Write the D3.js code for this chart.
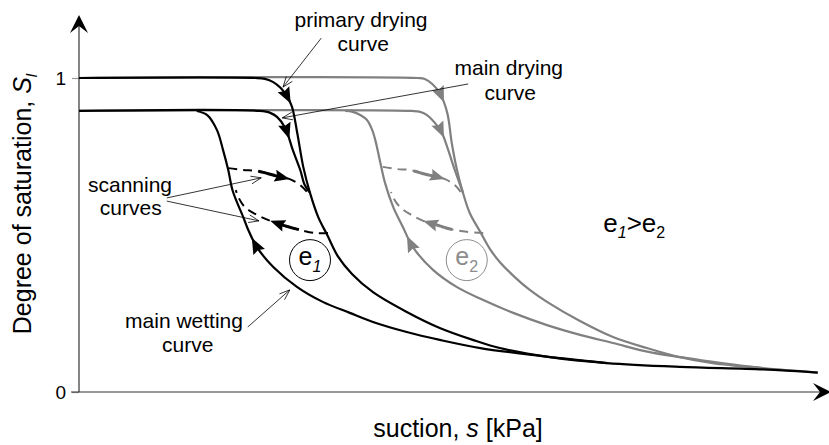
<!DOCTYPE html>
<html>
<head>
<meta charset="utf-8">
<script src="https://cdn.jsdelivr.net/npm/d3@7"></script>
<style>
  html, body { margin: 0; padding: 0; background: #fff; }
  svg { display: block; font-family: Arial, "Liberation Sans", sans-serif; }
</style>
</head>
<body>
<svg id="chart" width="829" height="445"></svg>
<script>
// Water retention behaviour for two void ratios (e1 > e2).
// Every point is [suction (relative units 0-100), degree of saturation Sl].

const satTicks = [0, 1];

// void ratio e1 (black)
const e1PrimaryDrying = [[0,1],[23.5,1],[24.8,0.997],[25.9,0.987],[26.9,0.968],[27.7,0.943],[28.4,0.908],
  [29.1,0.825],[29.9,0.717],[30.8,0.634],[31.9,0.557],[33.1,0.5],[34.5,0.433],[36.4,0.376],[39.2,0.318],
  [43.7,0.255],[48.1,0.204],[52.5,0.166],[56.1,0.14],[62.8,0.111],[70.4,0.092],[80.1,0.08],[91.2,0.072],[98.5,0.062]];
const e1MainDrying = [[0,0.895],[24.1,0.895],[25.5,0.889],[26.4,0.876],[27.5,0.841],[28.5,0.771],
  [29.5,0.707],[30.1,0.659],[30.8,0.634]];
const e1MainWetting = [[15.7,0.895],[17.1,0.882],[18.4,0.834],[19.2,0.771],[19.9,0.707],[20.5,0.64],
  [21.9,0.557],[22.5,0.52],[23.7,0.462],[25.9,0.398],[29.1,0.334],[32.5,0.287],[36.1,0.252],
  [39.2,0.223],[43.7,0.191],[48.1,0.166],[53.5,0.14],[61.5,0.115],[70.4,0.092]];
const e1ScanDrying = [[19.9,0.713],[21.9,0.707],[23.7,0.704],[26.8,0.685],[28.1,0.678],[29.5,0.659],[30.4,0.637],[30.8,0.624]];
const e1ScanWetting = [[33.2,0.506],[31.5,0.506],[29.5,0.516],[27.5,0.529],[25.5,0.545],[23.5,0.567],[22.1,0.589],[21.3,0.618],[20.9,0.643]];

// void ratio e2 (grey)
const e2PrimaryDrying = [[0,1],[45.1,1],[46.1,0.997],[47.1,0.981],[48.1,0.952],[49.1,0.889],[49.7,0.793],
  [50.4,0.707],[51.2,0.634],[52.1,0.57],[53.5,0.51],[54.8,0.455],[56.1,0.414],[58.1,0.366],[60.1,0.325],
  [62.4,0.287],[66.8,0.226],[71.2,0.175],[75.7,0.14],[80.1,0.111],[84.5,0.092],[91.2,0.076],[98.5,0.062]];
const e2MainDrying = [[0,0.895],[44.4,0.895],[45.5,0.892],[46.4,0.882],[47.7,0.85],[48.4,0.825],
  [49.1,0.78],[50.1,0.707],[51.2,0.634]];
const e2MainWetting = [[35.5,0.895],[36.5,0.892],[37.5,0.882],[38.4,0.866],[39.1,0.834],[39.5,0.803],
  [40.1,0.739],[40.8,0.666],[41.9,0.589],[43.2,0.525],[44.5,0.462],[47.2,0.389],[50.4,0.334],[53.9,0.293],
  [57.9,0.252],[62.4,0.213],[66.8,0.182],[71.2,0.156],[76.1,0.127],[82.8,0.102],[91.2,0.076]];
const e2ScanDrying = [[40.5,0.717],[42.4,0.71],[44.1,0.707],[46.1,0.694],[48.8,0.678],[50.1,0.659],[50.9,0.637],[51.3,0.624]];
const e2ScanWetting = [[53.9,0.506],[51.7,0.51],[49.5,0.519],[47.7,0.532],[45.9,0.545],[44.1,0.567],[42.8,0.589],[42.0,0.615],[41.6,0.637]];

const W = 829, H = 445;
const svg = d3.select("#chart");
const x = d3.scaleLinear().domain([0, 100]).range([79, 829]);
const y = d3.scaleLinear().domain([0, 1]).range([392, 78]);
const line = d3.line().x(d => x(d[0])).y(d => y(d[1])).curve(d3.curveCatmullRom.alpha(0.5));

const BLACK = "#000", GREY = "#808080";

// ---- axes ----
const axisG = svg.append("g").attr("transform", `translate(${x(0)},0)`)
  .call(d3.axisLeft(y).tickValues(satTicks).tickSize(7).tickPadding(6).tickFormat(d3.format("d")));
axisG.select(".domain").remove();
axisG.selectAll(".tick line").attr("stroke", "#999").attr("stroke-width", 1.2);
axisG.selectAll(".tick text").attr("font-size", 19).attr("fill", "#000")
  .attr("font-family", "Arial, 'Liberation Sans', sans-serif");

svg.append("line").attr("x1", x(0)).attr("x2", x(0)).attr("y1", y(0)).attr("y2", 24)
  .attr("stroke", "#333").attr("stroke-width", 1.2);
svg.append("line").attr("x1", x(0) - 8).attr("x2", W - 6).attr("y1", y(0)).attr("y2", y(0))
  .attr("stroke", "#333").attr("stroke-width", 1.2);
// axis arrow tips
const x0 = x(0), y0 = y(0);
svg.append("path").attr("d", `M${x0},15 L${x0 - 9},33 L${x0},26 L${x0 + 9},33 Z`).attr("fill", "#000");
svg.append("path").attr("d", `M${W + 2},${y0} L${W - 16},${y0 - 9} L${W - 9},${y0} L${W - 16},${y0 + 9} Z`).attr("fill", "#000");

// ---- curves ----
const curveG = svg.append("g").attr("fill", "none").attr("stroke-linecap", "butt");
function drawCurve(data, color, width, dash) {
  return curveG.append("path").datum(data).attr("d", line)
    .attr("stroke", color).attr("stroke-width", width)
    .attr("stroke-dasharray", dash || null).node();
}

function nearestLength(node, pt) {
  const px = x(pt[0]), py = y(pt[1]);
  const L = node.getTotalLength();
  let best = 0, bd = Infinity;
  for (let l = 0; l <= L; l += 0.5) {
    const p = node.getPointAtLength(l);
    const d = (p.x - px) ** 2 + (p.y - py) ** 2;
    if (d < bd) { bd = d; best = l; }
  }
  return best;
}

function arrowHead(node, l, dir, color, len, wid) {
  const L = node.getTotalLength();
  const p = node.getPointAtLength(l);
  const b = node.getPointAtLength(Math.max(0, Math.min(L, l - 7 * dir)));
  const ang = Math.atan2(p.y - b.y, p.x - b.x) * 180 / Math.PI;
  svg.append("path")
    .attr("d", `M0,0 L${-len},${-wid / 2} L${-len * 0.86},0 L${-len},${wid / 2} Z`)
    .attr("transform", `translate(${p.x},${p.y}) rotate(${ang})`)
    .attr("fill", color);
}

function solidRun(node, l0, l1, color, width) {
  const pts = [];
  for (let l = l0; l <= l1; l += 1) {
    const p = node.getPointAtLength(l); pts.push([p.x, p.y]);
  }
  svg.append("path").attr("d", d3.line()(pts)).attr("fill", "none")
    .attr("stroke", color).attr("stroke-width", width);
}

const sets = [
  { color: GREY, pd: e2PrimaryDrying, md: e2MainDrying, mw: e2MainWetting, sd: e2ScanDrying, sw: e2ScanWetting,
    aPd: [48.8, 0.924], aMd: [48.9, 0.812], aMw: [43.5, 0.494], aSd: [48.8, 0.678], aSw: [45.9, 0.545] },
  { color: BLACK, pd: e1PrimaryDrying, md: e1MainDrying, mw: e1MainWetting, sd: e1ScanDrying, sw: e1ScanWetting,
    aPd: [28.4, 0.92], aMd: [28.4, 0.809], aMw: [23.3, 0.494], aSd: [28.1, 0.678], aSw: [25.5, 0.545] }
];

sets.forEach(s => {
  const pd = drawCurve(s.pd, s.color, 2.2);
  const md = drawCurve(s.md, s.color, 2.2);
  const mw = drawCurve(s.mw, s.color, 2.2);
  const sd = drawCurve(s.sd, s.color, 2, "9,6");
  const sw = drawCurve(s.sw, s.color, 2, "9,6");
  arrowHead(pd, nearestLength(pd, s.aPd), 1, s.color, 16, 13);
  arrowHead(md, nearestLength(md, s.aMd), 1, s.color, 16, 13);
  arrowHead(mw, nearestLength(mw, s.aMw), -1, s.color, 16, 13);
  const lsd = nearestLength(sd, s.aSd);
  solidRun(sd, lsd - 32, lsd - 8, s.color, 3);
  arrowHead(sd, lsd, 1, s.color, 15, 12);
  const lsw = nearestLength(sw, s.aSw);
  solidRun(sw, lsw - 30, lsw - 8, s.color, 3);
  arrowHead(sw, lsw, 1, s.color, 15, 12);
});

// ---- void ratio markers ----
const markers = [
  { at: [30.8, 0.42], sub: "1", color: "#000", subItalic: true },
  { at: [51.7, 0.42], sub: "2", color: "#8c8c8c", subItalic: false }
];
markers.forEach(m => {
  const cx = x(m.at[0]), cy = y(m.at[1]);
  svg.append("circle").attr("cx", cx).attr("cy", cy).attr("r", 20.5)
    .attr("fill", "#fff").attr("stroke", m.color).attr("stroke-width", 1);
  const t = svg.append("text").attr("x", cx).attr("y", cy + 5).attr("text-anchor", "middle")
    .attr("fill", m.color).attr("font-size", 25);
  t.append("tspan").text("e");
  t.append("tspan").attr("dy", 7).attr("font-size", 16)
    .attr("font-style", m.subItalic ? "italic" : "normal").text(m.sub);
});

const rel = svg.append("text").attr("x", x(69.9)).attr("y", y(0.508)).attr("font-size", 26).attr("fill", "#000");
rel.append("tspan").text("e");
rel.append("tspan").attr("dy", 6).attr("font-size", 16).attr("font-style", "italic").text("1");
rel.append("tspan").attr("dy", -6).text(">e");
rel.append("tspan").attr("dy", 6).attr("font-size", 16).text("2");

// ---- annotations ----
const notes = [
  { lines: ["primary drying", "curve"], at: [[37.6, 1.162], [37.9, 1.086]], from: [32.3, 1.127], to: [27.2, 0.971] },
  { lines: ["main drying", "curve"], at: [[57.3, 1.01], [57.5, 0.93]], from: [51.9, 0.981], to: [27.1, 0.873] },
  { lines: ["scanning", "curves"], at: [[6.8, 0.637], [6.9, 0.564]], from: [11.7, 0.618], to: [24.3, 0.682] },
  { lines: [], at: [], from: [11.7, 0.608], to: [24.0, 0.545] },
  { lines: ["main wetting", "curve"], at: [[14.0, 0.204], [14.5, 0.127]], from: [22.5, 0.207], to: [28.1, 0.325] }
];
notes.forEach(n => {
  n.lines.forEach((txt, i) => {
    svg.append("text").attr("x", x(n.at[i][0])).attr("y", y(n.at[i][1])).attr("text-anchor", "middle")
      .attr("font-size", 21).attr("fill", "#000").text(txt);
  });
  const fx = x(n.from[0]), fy = y(n.from[1]), tx = x(n.to[0]), ty = y(n.to[1]);
  svg.append("line").attr("x1", fx).attr("y1", fy).attr("x2", tx).attr("y2", ty)
    .attr("stroke", "#000").attr("stroke-width", 0.8);
  const a = Math.atan2(ty - fy, tx - fx), len = 11, spread = 0.36;
  svg.append("path")
    .attr("d", `M${tx - len * Math.cos(a - spread)},${ty - len * Math.sin(a - spread)} L${tx},${ty} L${tx - len * Math.cos(a + spread)},${ty - len * Math.sin(a + spread)}`)
    .attr("fill", "none").attr("stroke", "#000").attr("stroke-width", 0.8);
});

// ---- axis titles ----
const yt = svg.append("text").attr("transform", "translate(31,204) rotate(-90)")
  .attr("text-anchor", "middle").attr("font-size", 25).attr("fill", "#000");
yt.append("tspan").text("Degree of saturation, ");
yt.append("tspan").attr("font-style", "italic").text("S");
yt.append("tspan").attr("font-style", "italic").attr("font-size", 15).attr("dy", 6).text("l");

const xt = svg.append("text").attr("x", 458).attr("y", 437).attr("text-anchor", "middle")
  .attr("font-size", 25).attr("fill", "#000");
xt.append("tspan").text("suction, ");
xt.append("tspan").attr("font-style", "italic").text("s");
xt.append("tspan").text(" [kPa]");
</script>
</body>
</html>
